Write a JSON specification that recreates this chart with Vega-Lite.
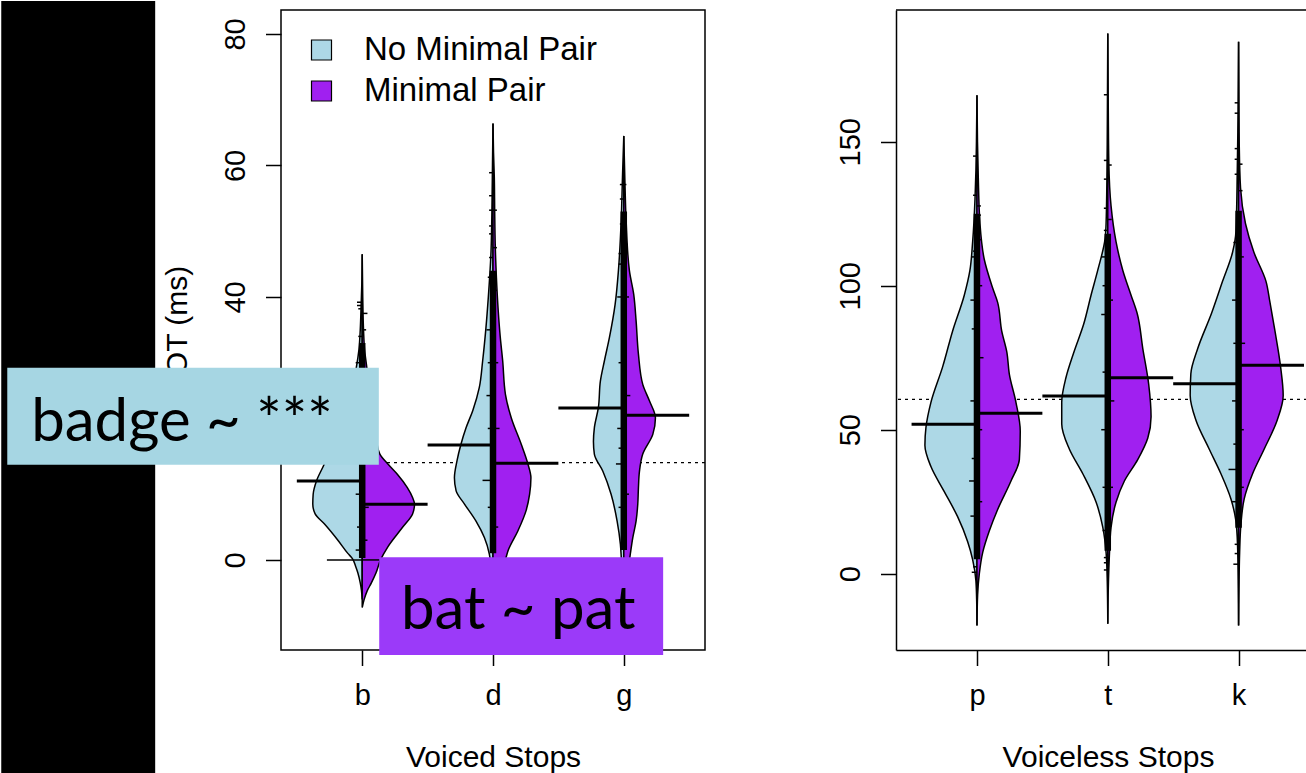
{
  "$schema": "https://vega.github.io/schema/vega-lite/v6.json",
  "padding": 0,
  "background": "white",
  "bounds": "flush",
  "spacing": 191,
  "config": {
    "font": "Liberation Sans",
    "axis": {"labelFont": "Liberation Sans", "labelFontSize": 29, "labelColor": "black", "titleFont": "Liberation Sans", "titleFontSize": 30, "titleFontWeight": "normal", "titleColor": "black", "tickColor": "black", "tickSize": 15.5, "tickWidth": 1.5, "domainColor": "black", "domainWidth": 1.5, "grid": false, "labelOverlap": false, "labelFlush": false}
  },
  "resolve": {"scale": {"color": "independent", "x": "independent", "y": "independent"}, "legend": {"color": "independent"}},
  "datasets": {
    "violinL": [
      {"stop":"b","group":"No Minimal Pair","pos":1,"edge":1,"vot":46.5},{"stop":"b","group":"No Minimal Pair","pos":1,"edge":0.997,"vot":42},{"stop":"b","group":"No Minimal Pair","pos":1,"edge":0.992,"vot":39},{"stop":"b","group":"No Minimal Pair","pos":1,"edge":0.985,"vot":35},{"stop":"b","group":"No Minimal Pair","pos":1,"edge":0.975,"vot":32},{"stop":"b","group":"No Minimal Pair","pos":1,"edge":0.955,"vot":29.3},{"stop":"b","group":"No Minimal Pair","pos":1,"edge":0.92,"vot":26},{"stop":"b","group":"No Minimal Pair","pos":1,"edge":0.85,"vot":22},{"stop":"b","group":"No Minimal Pair","pos":1,"edge":0.77,"vot":18},{"stop":"b","group":"No Minimal Pair","pos":1,"edge":0.71,"vot":14.6},{"stop":"b","group":"No Minimal Pair","pos":1,"edge":0.65,"vot":12},{"stop":"b","group":"No Minimal Pair","pos":1,"edge":0.625,"vot":10},{"stop":"b","group":"No Minimal Pair","pos":1,"edge":0.622,"vot":8.5},{"stop":"b","group":"No Minimal Pair","pos":1,"edge":0.64,"vot":7},{"stop":"b","group":"No Minimal Pair","pos":1,"edge":0.71,"vot":5.5},{"stop":"b","group":"No Minimal Pair","pos":1,"edge":0.814,"vot":3},{"stop":"b","group":"No Minimal Pair","pos":1,"edge":0.89,"vot":1},{"stop":"b","group":"No Minimal Pair","pos":1,"edge":0.925,"vot":0.2},{"stop":"b","group":"No Minimal Pair","pos":1,"edge":0.95,"vot":-1},{"stop":"b","group":"No Minimal Pair","pos":1,"edge":0.967,"vot":-2},{"stop":"b","group":"No Minimal Pair","pos":1,"edge":0.985,"vot":-3.5},{"stop":"b","group":"No Minimal Pair","pos":1,"edge":0.994,"vot":-4.6},{"stop":"b","group":"No Minimal Pair","pos":1,"edge":1,"vot":-6},
      {"stop":"b","group":"Minimal Pair","pos":1,"edge":1,"vot":46.5},{"stop":"b","group":"Minimal Pair","pos":1,"edge":1.004,"vot":40},{"stop":"b","group":"Minimal Pair","pos":1,"edge":1.01,"vot":35},{"stop":"b","group":"Minimal Pair","pos":1,"edge":1.018,"vot":32},{"stop":"b","group":"Minimal Pair","pos":1,"edge":1.035,"vot":29.3},{"stop":"b","group":"Minimal Pair","pos":1,"edge":1.055,"vot":26},{"stop":"b","group":"Minimal Pair","pos":1,"edge":1.085,"vot":22},{"stop":"b","group":"Minimal Pair","pos":1,"edge":1.11,"vot":18},{"stop":"b","group":"Minimal Pair","pos":1,"edge":1.135,"vot":16.1},{"stop":"b","group":"Minimal Pair","pos":1,"edge":1.2,"vot":14.5},{"stop":"b","group":"Minimal Pair","pos":1,"edge":1.27,"vot":13},{"stop":"b","group":"Minimal Pair","pos":1,"edge":1.345,"vot":11},{"stop":"b","group":"Minimal Pair","pos":1,"edge":1.385,"vot":9.5},{"stop":"b","group":"Minimal Pair","pos":1,"edge":1.4,"vot":8.5},{"stop":"b","group":"Minimal Pair","pos":1,"edge":1.385,"vot":7},{"stop":"b","group":"Minimal Pair","pos":1,"edge":1.31,"vot":5},{"stop":"b","group":"Minimal Pair","pos":1,"edge":1.196,"vot":2},{"stop":"b","group":"Minimal Pair","pos":1,"edge":1.14,"vot":0},{"stop":"b","group":"Minimal Pair","pos":1,"edge":1.105,"vot":-2},{"stop":"b","group":"Minimal Pair","pos":1,"edge":1.07,"vot":-3.5},{"stop":"b","group":"Minimal Pair","pos":1,"edge":1.038,"vot":-4.7},{"stop":"b","group":"Minimal Pair","pos":1,"edge":1.015,"vot":-6},{"stop":"b","group":"Minimal Pair","pos":1,"edge":1,"vot":-7.25},
      {"stop":"d","group":"No Minimal Pair","pos":2,"edge":2,"vot":66.4},{"stop":"d","group":"No Minimal Pair","pos":2,"edge":1.996,"vot":60},{"stop":"d","group":"No Minimal Pair","pos":2,"edge":1.993,"vot":55},{"stop":"d","group":"No Minimal Pair","pos":2,"edge":1.99,"vot":51},{"stop":"d","group":"No Minimal Pair","pos":2,"edge":1.985,"vot":47},{"stop":"d","group":"No Minimal Pair","pos":2,"edge":1.964,"vot":39.9},{"stop":"d","group":"No Minimal Pair","pos":2,"edge":1.946,"vot":35.3},{"stop":"d","group":"No Minimal Pair","pos":2,"edge":1.921,"vot":30.3},{"stop":"d","group":"No Minimal Pair","pos":2,"edge":1.895,"vot":26.2},{"stop":"d","group":"No Minimal Pair","pos":2,"edge":1.845,"vot":22.7},{"stop":"d","group":"No Minimal Pair","pos":2,"edge":1.794,"vot":20.1},{"stop":"d","group":"No Minimal Pair","pos":2,"edge":1.755,"vot":17.6},{"stop":"d","group":"No Minimal Pair","pos":2,"edge":1.725,"vot":15.1},{"stop":"d","group":"No Minimal Pair","pos":2,"edge":1.705,"vot":12.5},{"stop":"d","group":"No Minimal Pair","pos":2,"edge":1.718,"vot":10.5},{"stop":"d","group":"No Minimal Pair","pos":2,"edge":1.782,"vot":8.5},{"stop":"d","group":"No Minimal Pair","pos":2,"edge":1.87,"vot":5.9},{"stop":"d","group":"No Minimal Pair","pos":2,"edge":1.934,"vot":3.4},{"stop":"d","group":"No Minimal Pair","pos":2,"edge":1.972,"vot":0.9},{"stop":"d","group":"No Minimal Pair","pos":2,"edge":1.985,"vot":-1},{"stop":"d","group":"No Minimal Pair","pos":2,"edge":1.994,"vot":-3},{"stop":"d","group":"No Minimal Pair","pos":2,"edge":2,"vot":-5},
      {"stop":"d","group":"Minimal Pair","pos":2,"edge":2,"vot":66.4},{"stop":"d","group":"Minimal Pair","pos":2,"edge":2.004,"vot":62},{"stop":"d","group":"Minimal Pair","pos":2,"edge":2.01,"vot":58.2},{"stop":"d","group":"Minimal Pair","pos":2,"edge":2.013,"vot":53},{"stop":"d","group":"Minimal Pair","pos":2,"edge":2.017,"vot":48},{"stop":"d","group":"Minimal Pair","pos":2,"edge":2.026,"vot":43},{"stop":"d","group":"Minimal Pair","pos":2,"edge":2.04,"vot":37.9},{"stop":"d","group":"Minimal Pair","pos":2,"edge":2.055,"vot":34},{"stop":"d","group":"Minimal Pair","pos":2,"edge":2.074,"vot":30.3},{"stop":"d","group":"Minimal Pair","pos":2,"edge":2.095,"vot":25.2},{"stop":"d","group":"Minimal Pair","pos":2,"edge":2.14,"vot":21.6},{"stop":"d","group":"Minimal Pair","pos":2,"edge":2.216,"vot":17.6},{"stop":"d","group":"Minimal Pair","pos":2,"edge":2.267,"vot":14.6},{"stop":"d","group":"Minimal Pair","pos":2,"edge":2.29,"vot":12.5},{"stop":"d","group":"Minimal Pair","pos":2,"edge":2.28,"vot":10},{"stop":"d","group":"Minimal Pair","pos":2,"edge":2.253,"vot":7.5},{"stop":"d","group":"Minimal Pair","pos":2,"edge":2.19,"vot":4.4},{"stop":"d","group":"Minimal Pair","pos":2,"edge":2.115,"vot":1.4},{"stop":"d","group":"Minimal Pair","pos":2,"edge":2.1,"vot":0.4},{"stop":"d","group":"Minimal Pair","pos":2,"edge":2.05,"vot":-3},{"stop":"d","group":"Minimal Pair","pos":2,"edge":2.015,"vot":-6},{"stop":"d","group":"Minimal Pair","pos":2,"edge":2,"vot":-9},
      {"stop":"g","group":"No Minimal Pair","pos":3,"edge":3,"vot":64.5},{"stop":"g","group":"No Minimal Pair","pos":3,"edge":2.99,"vot":58.2},{"stop":"g","group":"No Minimal Pair","pos":3,"edge":2.98,"vot":51.6},{"stop":"g","group":"No Minimal Pair","pos":3,"edge":2.959,"vot":44},{"stop":"g","group":"No Minimal Pair","pos":3,"edge":2.934,"vot":38.9},{"stop":"g","group":"No Minimal Pair","pos":3,"edge":2.89,"vot":33.8},{"stop":"g","group":"No Minimal Pair","pos":3,"edge":2.852,"vot":30.3},{"stop":"g","group":"No Minimal Pair","pos":3,"edge":2.821,"vot":27.2},{"stop":"g","group":"No Minimal Pair","pos":3,"edge":2.806,"vot":23.2},{"stop":"g","group":"No Minimal Pair","pos":3,"edge":2.775,"vot":20.1},{"stop":"g","group":"No Minimal Pair","pos":3,"edge":2.768,"vot":18},{"stop":"g","group":"No Minimal Pair","pos":3,"edge":2.775,"vot":16.1},{"stop":"g","group":"No Minimal Pair","pos":3,"edge":2.84,"vot":13.5},{"stop":"g","group":"No Minimal Pair","pos":3,"edge":2.903,"vot":10},{"stop":"g","group":"No Minimal Pair","pos":3,"edge":2.949,"vot":5.9},{"stop":"g","group":"No Minimal Pair","pos":3,"edge":2.974,"vot":2.4},{"stop":"g","group":"No Minimal Pair","pos":3,"edge":2.982,"vot":0},{"stop":"g","group":"No Minimal Pair","pos":3,"edge":2.992,"vot":-3},{"stop":"g","group":"No Minimal Pair","pos":3,"edge":3,"vot":-6},
      {"stop":"g","group":"Minimal Pair","pos":3,"edge":3,"vot":64.5},{"stop":"g","group":"Minimal Pair","pos":3,"edge":3.008,"vot":58},{"stop":"g","group":"Minimal Pair","pos":3,"edge":3.018,"vot":51.6},{"stop":"g","group":"Minimal Pair","pos":3,"edge":3.043,"vot":44},{"stop":"g","group":"Minimal Pair","pos":3,"edge":3.076,"vot":40.4},{"stop":"g","group":"Minimal Pair","pos":3,"edge":3.094,"vot":36.4},{"stop":"g","group":"Minimal Pair","pos":3,"edge":3.112,"vot":31.3},{"stop":"g","group":"Minimal Pair","pos":3,"edge":3.145,"vot":26.7},{"stop":"g","group":"Minimal Pair","pos":3,"edge":3.196,"vot":24.2},{"stop":"g","group":"Minimal Pair","pos":3,"edge":3.242,"vot":21.6},{"stop":"g","group":"Minimal Pair","pos":3,"edge":3.222,"vot":19.1},{"stop":"g","group":"Minimal Pair","pos":3,"edge":3.145,"vot":16.1},{"stop":"g","group":"Minimal Pair","pos":3,"edge":3.12,"vot":13.5},{"stop":"g","group":"Minimal Pair","pos":3,"edge":3.112,"vot":11},{"stop":"g","group":"Minimal Pair","pos":3,"edge":3.107,"vot":8.5},{"stop":"g","group":"Minimal Pair","pos":3,"edge":3.094,"vot":5.9},{"stop":"g","group":"Minimal Pair","pos":3,"edge":3.069,"vot":3.4},{"stop":"g","group":"Minimal Pair","pos":3,"edge":3.05,"vot":0.9},{"stop":"g","group":"Minimal Pair","pos":3,"edge":3.03,"vot":-2},{"stop":"g","group":"Minimal Pair","pos":3,"edge":3.01,"vot":-5},{"stop":"g","group":"Minimal Pair","pos":3,"edge":3,"vot":-8}
    ],
    "violinR": [
      {"stop":"p","group":"No Minimal Pair","pos":1,"edge":1,"vot":166.1},{"stop":"p","group":"No Minimal Pair","pos":1,"edge":0.996,"vot":150},{"stop":"p","group":"No Minimal Pair","pos":1,"edge":0.992,"vot":140},{"stop":"p","group":"No Minimal Pair","pos":1,"edge":0.985,"vot":130.1},{"stop":"p","group":"No Minimal Pair","pos":1,"edge":0.967,"vot":115.3},{"stop":"p","group":"No Minimal Pair","pos":1,"edge":0.946,"vot":105.3},{"stop":"p","group":"No Minimal Pair","pos":1,"edge":0.903,"vot":96.7},{"stop":"p","group":"No Minimal Pair","pos":1,"edge":0.814,"vot":84.3},{"stop":"p","group":"No Minimal Pair","pos":1,"edge":0.738,"vot":71.9},{"stop":"p","group":"No Minimal Pair","pos":1,"edge":0.648,"vot":59.5},{"stop":"p","group":"No Minimal Pair","pos":1,"edge":0.61,"vot":50.8},{"stop":"p","group":"No Minimal Pair","pos":1,"edge":0.602,"vot":44.6},{"stop":"p","group":"No Minimal Pair","pos":1,"edge":0.648,"vot":37.2},{"stop":"p","group":"No Minimal Pair","pos":1,"edge":0.75,"vot":28.5},{"stop":"p","group":"No Minimal Pair","pos":1,"edge":0.852,"vot":19.8},{"stop":"p","group":"No Minimal Pair","pos":1,"edge":0.929,"vot":11.1},{"stop":"p","group":"No Minimal Pair","pos":1,"edge":0.967,"vot":4.9},{"stop":"p","group":"No Minimal Pair","pos":1,"edge":0.992,"vot":-2.5},{"stop":"p","group":"No Minimal Pair","pos":1,"edge":0.998,"vot":-10},{"stop":"p","group":"No Minimal Pair","pos":1,"edge":1,"vot":-18},
      {"stop":"p","group":"Minimal Pair","pos":1,"edge":1,"vot":166.1},{"stop":"p","group":"Minimal Pair","pos":1,"edge":1.004,"vot":150},{"stop":"p","group":"Minimal Pair","pos":1,"edge":1.01,"vot":137.6},{"stop":"p","group":"Minimal Pair","pos":1,"edge":1.023,"vot":121.5},{"stop":"p","group":"Minimal Pair","pos":1,"edge":1.056,"vot":109.1},{"stop":"p","group":"Minimal Pair","pos":1,"edge":1.12,"vot":99.2},{"stop":"p","group":"Minimal Pair","pos":1,"edge":1.158,"vot":94.2},{"stop":"p","group":"Minimal Pair","pos":1,"edge":1.189,"vot":84.3},{"stop":"p","group":"Minimal Pair","pos":1,"edge":1.229,"vot":76.8},{"stop":"p","group":"Minimal Pair","pos":1,"edge":1.247,"vot":69.4},{"stop":"p","group":"Minimal Pair","pos":1,"edge":1.298,"vot":59.5},{"stop":"p","group":"Minimal Pair","pos":1,"edge":1.331,"vot":49.5},{"stop":"p","group":"Minimal Pair","pos":1,"edge":1.324,"vot":39.6},{"stop":"p","group":"Minimal Pair","pos":1,"edge":1.26,"vot":32.2},{"stop":"p","group":"Minimal Pair","pos":1,"edge":1.158,"vot":22.3},{"stop":"p","group":"Minimal Pair","pos":1,"edge":1.094,"vot":14.8},{"stop":"p","group":"Minimal Pair","pos":1,"edge":1.044,"vot":7.4},{"stop":"p","group":"Minimal Pair","pos":1,"edge":1.018,"vot":0},{"stop":"p","group":"Minimal Pair","pos":1,"edge":1.005,"vot":-7.4},{"stop":"p","group":"Minimal Pair","pos":1,"edge":1,"vot":-18},
      {"stop":"t","group":"No Minimal Pair","pos":2,"edge":2,"vot":187.6},{"stop":"t","group":"No Minimal Pair","pos":2,"edge":1.997,"vot":160},{"stop":"t","group":"No Minimal Pair","pos":2,"edge":1.994,"vot":140},{"stop":"t","group":"No Minimal Pair","pos":2,"edge":1.987,"vot":121.5},{"stop":"t","group":"No Minimal Pair","pos":2,"edge":1.98,"vot":116.5},{"stop":"t","group":"No Minimal Pair","pos":2,"edge":1.923,"vot":105.3},{"stop":"t","group":"No Minimal Pair","pos":2,"edge":1.872,"vot":96.7},{"stop":"t","group":"No Minimal Pair","pos":2,"edge":1.816,"vot":86.7},{"stop":"t","group":"No Minimal Pair","pos":2,"edge":1.74,"vot":76.8},{"stop":"t","group":"No Minimal Pair","pos":2,"edge":1.681,"vot":68.2},{"stop":"t","group":"No Minimal Pair","pos":2,"edge":1.648,"vot":59.5},{"stop":"t","group":"No Minimal Pair","pos":2,"edge":1.648,"vot":52},{"stop":"t","group":"No Minimal Pair","pos":2,"edge":1.706,"vot":43.3},{"stop":"t","group":"No Minimal Pair","pos":2,"edge":1.809,"vot":34.7},{"stop":"t","group":"No Minimal Pair","pos":2,"edge":1.911,"vot":24.8},{"stop":"t","group":"No Minimal Pair","pos":2,"edge":1.962,"vot":16.1},{"stop":"t","group":"No Minimal Pair","pos":2,"edge":1.987,"vot":7.4},{"stop":"t","group":"No Minimal Pair","pos":2,"edge":1.996,"vot":-2.5},{"stop":"t","group":"No Minimal Pair","pos":2,"edge":2,"vot":-17.4},
      {"stop":"t","group":"Minimal Pair","pos":2,"edge":2,"vot":187.6},{"stop":"t","group":"Minimal Pair","pos":2,"edge":2.004,"vot":160},{"stop":"t","group":"Minimal Pair","pos":2,"edge":2.008,"vot":142.6},{"stop":"t","group":"Minimal Pair","pos":2,"edge":2.025,"vot":127.7},{"stop":"t","group":"Minimal Pair","pos":2,"edge":2.063,"vot":115.3},{"stop":"t","group":"Minimal Pair","pos":2,"edge":2.115,"vot":105.3},{"stop":"t","group":"Minimal Pair","pos":2,"edge":2.178,"vot":96.7},{"stop":"t","group":"Minimal Pair","pos":2,"edge":2.224,"vot":90.5},{"stop":"t","group":"Minimal Pair","pos":2,"edge":2.268,"vot":78.1},{"stop":"t","group":"Minimal Pair","pos":2,"edge":2.313,"vot":65.7},{"stop":"t","group":"Minimal Pair","pos":2,"edge":2.331,"vot":54.5},{"stop":"t","group":"Minimal Pair","pos":2,"edge":2.306,"vot":47.1},{"stop":"t","group":"Minimal Pair","pos":2,"edge":2.229,"vot":39.6},{"stop":"t","group":"Minimal Pair","pos":2,"edge":2.127,"vot":32.2},{"stop":"t","group":"Minimal Pair","pos":2,"edge":2.063,"vot":24.8},{"stop":"t","group":"Minimal Pair","pos":2,"edge":2.025,"vot":16.1},{"stop":"t","group":"Minimal Pair","pos":2,"edge":2.012,"vot":6.1},{"stop":"t","group":"Minimal Pair","pos":2,"edge":2.004,"vot":-5},{"stop":"t","group":"Minimal Pair","pos":2,"edge":2,"vot":-17.4},
      {"stop":"k","group":"No Minimal Pair","pos":3,"edge":3,"vot":184.7},{"stop":"k","group":"No Minimal Pair","pos":3,"edge":2.996,"vot":160},{"stop":"k","group":"No Minimal Pair","pos":3,"edge":2.99,"vot":140},{"stop":"k","group":"No Minimal Pair","pos":3,"edge":2.98,"vot":119},{"stop":"k","group":"No Minimal Pair","pos":3,"edge":2.954,"vot":111.6},{"stop":"k","group":"No Minimal Pair","pos":3,"edge":2.878,"vot":101.6},{"stop":"k","group":"No Minimal Pair","pos":3,"edge":2.794,"vot":90.5},{"stop":"k","group":"No Minimal Pair","pos":3,"edge":2.687,"vot":78.1},{"stop":"k","group":"No Minimal Pair","pos":3,"edge":2.635,"vot":69.4},{"stop":"k","group":"No Minimal Pair","pos":3,"edge":2.63,"vot":61.9},{"stop":"k","group":"No Minimal Pair","pos":3,"edge":2.674,"vot":53.3},{"stop":"k","group":"No Minimal Pair","pos":3,"edge":2.775,"vot":43.3},{"stop":"k","group":"No Minimal Pair","pos":3,"edge":2.865,"vot":34.7},{"stop":"k","group":"No Minimal Pair","pos":3,"edge":2.941,"vot":26},{"stop":"k","group":"No Minimal Pair","pos":3,"edge":2.979,"vot":18.5},{"stop":"k","group":"No Minimal Pair","pos":3,"edge":2.992,"vot":9.9},{"stop":"k","group":"No Minimal Pair","pos":3,"edge":2.998,"vot":-5},{"stop":"k","group":"No Minimal Pair","pos":3,"edge":3,"vot":-18},
      {"stop":"k","group":"Minimal Pair","pos":3,"edge":3,"vot":184.7},{"stop":"k","group":"Minimal Pair","pos":3,"edge":3.003,"vot":160},{"stop":"k","group":"Minimal Pair","pos":3,"edge":3.005,"vot":148.8},{"stop":"k","group":"Minimal Pair","pos":3,"edge":3.015,"vot":133.9},{"stop":"k","group":"Minimal Pair","pos":3,"edge":3.053,"vot":121.5},{"stop":"k","group":"Minimal Pair","pos":3,"edge":3.117,"vot":111.6},{"stop":"k","group":"Minimal Pair","pos":3,"edge":3.209,"vot":101.6},{"stop":"k","group":"Minimal Pair","pos":3,"edge":3.24,"vot":94.2},{"stop":"k","group":"Minimal Pair","pos":3,"edge":3.278,"vot":84.3},{"stop":"k","group":"Minimal Pair","pos":3,"edge":3.321,"vot":71.9},{"stop":"k","group":"Minimal Pair","pos":3,"edge":3.341,"vot":61.9},{"stop":"k","group":"Minimal Pair","pos":3,"edge":3.295,"vot":53.3},{"stop":"k","group":"Minimal Pair","pos":3,"edge":3.196,"vot":43.3},{"stop":"k","group":"Minimal Pair","pos":3,"edge":3.107,"vot":34.7},{"stop":"k","group":"Minimal Pair","pos":3,"edge":3.043,"vot":26},{"stop":"k","group":"Minimal Pair","pos":3,"edge":3.018,"vot":17.3},{"stop":"k","group":"Minimal Pair","pos":3,"edge":3.008,"vot":7.4},{"stop":"k","group":"Minimal Pair","pos":3,"edge":3.003,"vot":-5},{"stop":"k","group":"Minimal Pair","pos":3,"edge":3,"vot":-18}
    ],
    "meansL": [{"pos":1,"end":0.5,"vot":12.0},{"pos":1,"end":1.5,"vot":8.47},{"pos":2,"end":1.5,"vot":17.49},{"pos":2,"end":2.5,"vot":14.71},{"pos":3,"end":2.5,"vot":23.12},{"pos":3,"end":3.5,"vot":22.01}],
    "meansR": [{"pos":1,"end":0.5,"vot":51.87},{"pos":1,"end":1.5,"vot":55.69},{"pos":2,"end":1.5,"vot":61.7},{"pos":2,"end":2.5,"vot":68.06},{"pos":3,"end":2.5,"vot":65.97},{"pos":3,"end":3.5,"vot":72.36}],
    "bandsL": [{"pos":1,"lo":0.3,"hi":33},{"pos":2,"lo":1,"hi":44},{"pos":3,"lo":1.5,"hi":53}],
    "bandsR": [{"pos":1,"lo":5,"hi":125},{"pos":2,"lo":8,"hi":118},{"pos":3,"lo":16,"hi":126}],
    "ticksL": [
      {"pos":1,"end":0.96,"vot":39.2},{"pos":1,"end":0.96,"vot":38.7},{"pos":1,"end":0.97,"vot":38.2},{"pos":1,"end":1.04,"vot":37.5},{"pos":1,"end":1.03,"vot":35},{"pos":1,"end":0.97,"vot":34},{"pos":1,"end":0.73,"vot":0},{"pos":1,"end":1.15,"vot":0},
      {"pos":1,"end":0.95,"vot":30},{"pos":1,"end":0.96,"vot":20},{"pos":1,"end":0.95,"vot":10},{"pos":1,"end":0.96,"vot":5},{"pos":1,"end":1.05,"vot":8},{"pos":1,"end":1.04,"vot":3},{"pos":1,"end":0.95,"vot":1.5},
      {"pos":2,"end":1.97,"vot":58.9},{"pos":2,"end":1.97,"vot":55.4},{"pos":2,"end":1.97,"vot":53.2},{"pos":2,"end":2.03,"vot":53.2},{"pos":2,"end":1.97,"vot":50.8},{"pos":2,"end":1.97,"vot":49.6},{"pos":2,"end":2.03,"vot":47.5},{"pos":2,"end":1.97,"vot":46},{"pos":2,"end":1.96,"vot":43},{"pos":2,"end":2.03,"vot":41},{"pos":2,"end":1.92,"vot":12.1},
      {"pos":2,"end":1.95,"vot":35},{"pos":2,"end":1.96,"vot":30},{"pos":2,"end":1.95,"vot":25},{"pos":2,"end":1.96,"vot":20},{"pos":2,"end":1.96,"vot":8},{"pos":2,"end":2.04,"vot":30},{"pos":2,"end":2.05,"vot":20},{"pos":2,"end":2.04,"vot":5},
      {"pos":3,"end":2.97,"vot":57.1},{"pos":3,"end":3.02,"vot":57.1},{"pos":3,"end":2.97,"vot":54.9},{"pos":3,"end":2.97,"vot":51.1},{"pos":3,"end":3.03,"vot":48},{"pos":3,"end":2.96,"vot":46.6},{"pos":3,"end":2.94,"vot":14.6},{"pos":3,"end":2.96,"vot":17},
      {"pos":3,"end":2.96,"vot":45},{"pos":3,"end":2.95,"vot":40},{"pos":3,"end":2.96,"vot":30},{"pos":3,"end":2.95,"vot":20},{"pos":3,"end":2.96,"vot":8},{"pos":3,"end":3.04,"vot":40},{"pos":3,"end":3.05,"vot":25},{"pos":3,"end":3.04,"vot":10}
    ],
    "ticksR": [
      {"pos":1,"end":0.97,"vot":145},{"pos":1,"end":0.97,"vot":131.4},{"pos":1,"end":1.03,"vot":127.7},{"pos":1,"end":1.03,"vot":124.5},{"pos":1,"end":0.97,"vot":119.7},{"pos":1,"end":1.03,"vot":116},{"pos":1,"end":0.97,"vot":112},{"pos":1,"end":0.94,"vot":32.2},{"pos":1,"end":0.97,"vot":2.4},{"pos":1,"end":0.96,"vot":0.5},
      {"pos":1,"end":0.96,"vot":110},{"pos":1,"end":0.95,"vot":95},{"pos":1,"end":0.96,"vot":85},{"pos":1,"end":0.95,"vot":60},{"pos":1,"end":0.96,"vot":40},{"pos":1,"end":0.95,"vot":20},{"pos":1,"end":1.04,"vot":100},{"pos":1,"end":1.05,"vot":75},{"pos":1,"end":1.04,"vot":50},{"pos":1,"end":1.04,"vot":25},
      {"pos":2,"end":1.97,"vot":166.3},{"pos":2,"end":1.97,"vot":143.5},{"pos":2,"end":2.03,"vot":141.9},{"pos":2,"end":1.97,"vot":137},{"pos":2,"end":1.97,"vot":126.9},{"pos":2,"end":2.03,"vot":123},{"pos":2,"end":1.97,"vot":119.2},{"pos":2,"end":1.97,"vot":5.6},{"pos":2,"end":1.97,"vot":3.8},{"pos":2,"end":1.97,"vot":1.3},
      {"pos":2,"end":1.95,"vot":110},{"pos":2,"end":1.96,"vot":100},{"pos":2,"end":1.95,"vot":90},{"pos":2,"end":1.96,"vot":70},{"pos":2,"end":1.95,"vot":50},{"pos":2,"end":1.96,"vot":30},{"pos":2,"end":1.96,"vot":15},{"pos":2,"end":2.04,"vot":95},{"pos":2,"end":2.05,"vot":60},{"pos":2,"end":2.04,"vot":30},
      {"pos":3,"end":2.97,"vot":163.5},{"pos":3,"end":2.97,"vot":159.9},{"pos":3,"end":2.97,"vot":147.6},{"pos":3,"end":2.97,"vot":143.9},{"pos":3,"end":3.03,"vot":142.2},{"pos":3,"end":2.97,"vot":138.7},{"pos":3,"end":3.03,"vot":133},{"pos":3,"end":2.923,"vot":36.2},{"pos":3,"end":2.97,"vot":10.2},{"pos":3,"end":2.96,"vot":3.3},{"pos":3,"end":2.97,"vot":7},
      {"pos":3,"end":2.96,"vot":115},{"pos":3,"end":2.95,"vot":95},{"pos":3,"end":2.96,"vot":80},{"pos":3,"end":2.95,"vot":60},{"pos":3,"end":2.96,"vot":45},{"pos":3,"end":2.95,"vot":25},{"pos":3,"end":3.04,"vot":110},{"pos":3,"end":3.05,"vot":80},{"pos":3,"end":3.04,"vot":50},{"pos":3,"end":3.04,"vot":30}
    ]
  },
  "hconcat": [
    {
      "width": 424,
      "height": 640,
      "view": {"stroke": "black", "strokeWidth": 1.5},
      "layer": [
        {
          "data": {"values": [{"x1": -1.76, "x2": -0.583, "y1": 85.02, "y2": -32.54}]},
          "mark": {"type": "rect", "fill": "black"},
          "encoding": {
            "x": {"field": "x1", "type": "quantitative", "scale": {"domain": [0.379, 3.621], "nice": false, "zero": false},
              "axis": {"values": [1, 2, 3], "labelExpr": "datum.value == 1 ? 'b' : datum.value == 2 ? 'd' : 'g'", "title": "Voiced Stops", "titleX": 212, "titleY": 116, "titleBaseline": "alphabetic", "titleAlign": "center", "labelBaseline": "alphabetic", "labelPadding": 39, "domain": false}},
            "x2": {"field": "x2"},
            "y": {"field": "y1", "type": "quantitative", "scale": {"domain": [-13.7, 83.65], "nice": false, "zero": false},
              "axis": {"values": [0, 20, 40, 60, 80], "title": "VOT (ms)", "titleX": -95, "titleY": 320, "titleAngle": -90, "titleBaseline": "alphabetic", "titleAlign": "center", "labelAngle": -90, "labelAlign": "center", "labelBaseline": "alphabetic", "labelPadding": 21.5, "domain": false}},
            "y2": {"field": "y2"}
          }
        },
        {
          "data": {"values": [{"vot": 14.8}]},
          "mark": {"type": "rule", "color": "black", "strokeWidth": 1.3, "strokeDash": [3, 4]},
          "encoding": {
            "y": {"field": "vot", "type": "quantitative", "scale": {"domain": [-13.7, 83.65], "nice": false, "zero": false}}
          }
        },
        {
          "data": {"name": "violinL"},
          "mark": {"type": "area", "orient": "horizontal", "interpolate": "monotone", "stroke": "black", "strokeWidth": 1.5, "opacity": 1},
          "encoding": {
            "y": {"field": "vot", "type": "quantitative", "scale": {"domain": [-13.7, 83.65], "nice": false, "zero": false}},
            "x": {"field": "edge", "type": "quantitative", "stack": null, "scale": {"domain": [0.379, 3.621], "nice": false, "zero": false}},
            "x2": {"field": "pos"},
            "color": {"field": "group", "type": "nominal", "scale": {"domain": ["No Minimal Pair", "Minimal Pair"], "range": ["#ADD8E6", "#A020F0"]},
              "legend": {"orient": "none", "legendX": 24, "legendY": 23.5, "title": null, "symbolType": "square", "symbolSize": 400, "symbolStrokeColor": "black", "symbolStrokeWidth": 1.2, "symbolOpacity": 1, "labelFont": "Liberation Sans", "labelFontSize": 33, "labelColor": "black", "labelOffset": 26, "labelLimit": 0, "rowPadding": 7, "padding": 0}},
            "detail": {"field": "stop"}
          }
        },
        {
          "data": {"name": "bandsL"},
          "mark": {"type": "rule", "color": "black", "strokeWidth": 6.5},
          "encoding": {
            "x": {"field": "pos", "type": "quantitative", "scale": {"domain": [0.379, 3.621], "nice": false, "zero": false}},
            "y": {"field": "lo", "type": "quantitative", "scale": {"domain": [-13.7, 83.65], "nice": false, "zero": false}},
            "y2": {"field": "hi"}
          }
        },
        {
          "data": {"name": "ticksL"},
          "mark": {"type": "rule", "color": "black", "strokeWidth": 1.5},
          "encoding": {
            "x": {"field": "pos", "type": "quantitative", "scale": {"domain": [0.379, 3.621], "nice": false, "zero": false}},
            "x2": {"field": "end"},
            "y": {"field": "vot", "type": "quantitative", "scale": {"domain": [-13.7, 83.65], "nice": false, "zero": false}}
          }
        },
        {
          "data": {"name": "meansL"},
          "mark": {"type": "rule", "color": "black", "strokeWidth": 3},
          "encoding": {
            "x": {"field": "pos", "type": "quantitative", "scale": {"domain": [0.379, 3.621], "nice": false, "zero": false}},
            "x2": {"field": "end"},
            "y": {"field": "vot", "type": "quantitative", "scale": {"domain": [-13.7, 83.65], "nice": false, "zero": false}}
          }
        },
        {
          "data": {"values": [{"x1": -1.714, "x2": 1.127, "y1": 29.25, "y2": 14.49}]},
          "mark": {"type": "rect", "fill": "#A6D6E3"},
          "encoding": {
            "x": {"field": "x1", "type": "quantitative", "scale": {"domain": [0.379, 3.621], "nice": false, "zero": false}},
            "x2": {"field": "x2"},
            "y": {"field": "y1", "type": "quantitative", "scale": {"domain": [-13.7, 83.65], "nice": false, "zero": false}},
            "y2": {"field": "y2"}
          }
        },
        {
          "data": {"values": [{"x": -1.531, "y": 18.1, "label": "badge ~ ***"}]},
          "mark": {"type": "text", "font": "Lato", "fontSize": 60, "color": "black", "align": "left", "baseline": "alphabetic"},
          "encoding": {
            "x": {"field": "x", "type": "quantitative", "scale": {"domain": [0.379, 3.621], "nice": false, "zero": false}},
            "y": {"field": "y", "type": "quantitative", "scale": {"domain": [-13.7, 83.65], "nice": false, "zero": false}},
            "text": {"field": "label"}
          }
        },
        {
          "data": {"values": [{"x1": 1.13, "x2": 3.301, "y1": 0.4, "y2": -14.45}]},
          "mark": {"type": "rect", "fill": "#9B3AF9"},
          "encoding": {
            "x": {"field": "x1", "type": "quantitative", "scale": {"domain": [0.379, 3.621], "nice": false, "zero": false}},
            "x2": {"field": "x2"},
            "y": {"field": "y1", "type": "quantitative", "scale": {"domain": [-13.7, 83.65], "nice": false, "zero": false}},
            "y2": {"field": "y2"}
          }
        },
        {
          "data": {"values": [{"x": 1.296, "y": -10.54, "label": "bat ~ pat"}]},
          "mark": {"type": "text", "font": "Lato", "fontSize": 60, "color": "black", "align": "left", "baseline": "alphabetic"},
          "encoding": {
            "x": {"field": "x", "type": "quantitative", "scale": {"domain": [0.379, 3.621], "nice": false, "zero": false}},
            "y": {"field": "y", "type": "quantitative", "scale": {"domain": [-13.7, 83.65], "nice": false, "zero": false}},
            "text": {"field": "label"}
          }
        }
      ]
    },
    {
      "width": 411,
      "height": 640,
      "view": {"stroke": null},
      "layer": [
        {
          "data": {"values": [{"vot": 60.55}]},
          "mark": {"type": "rule", "color": "black", "strokeWidth": 1.3, "strokeDash": [3, 4]},
          "encoding": {
            "y": {"field": "vot", "type": "quantitative", "scale": {"domain": [-26.49, 195.73], "nice": false, "zero": false},
              "axis": {"values": [0, 50, 100, 150], "title": null, "labelAngle": -90, "labelAlign": "center", "labelBaseline": "alphabetic", "labelPadding": 21.5, "domain": true}}
          }
        },
        {
          "data": {"name": "violinR"},
          "mark": {"type": "area", "orient": "horizontal", "interpolate": "monotone", "stroke": "black", "strokeWidth": 1.5, "opacity": 1},
          "encoding": {
            "y": {"field": "vot", "type": "quantitative", "scale": {"domain": [-26.49, 195.73], "nice": false, "zero": false}},
            "x": {"field": "edge", "type": "quantitative", "stack": null, "scale": {"domain": [0.381, 3.523], "nice": false, "zero": false},
              "axis": {"values": [1, 2, 3], "labelExpr": "datum.value == 1 ? 'p' : datum.value == 2 ? 't' : 'k'", "title": "Voiceless Stops", "titleX": 212, "titleY": 116, "titleBaseline": "alphabetic", "titleAlign": "center", "labelBaseline": "alphabetic", "labelPadding": 39, "domain": true}},
            "x2": {"field": "pos"},
            "color": {"field": "group", "type": "nominal", "scale": {"domain": ["No Minimal Pair", "Minimal Pair"], "range": ["#ADD8E6", "#A020F0"]}, "legend": null},
            "detail": {"field": "stop"}
          }
        },
        {
          "data": {"name": "bandsR"},
          "mark": {"type": "rule", "color": "black", "strokeWidth": 6.5},
          "encoding": {
            "x": {"field": "pos", "type": "quantitative", "scale": {"domain": [0.381, 3.523], "nice": false, "zero": false}},
            "y": {"field": "lo", "type": "quantitative", "scale": {"domain": [-26.49, 195.73], "nice": false, "zero": false}},
            "y2": {"field": "hi"}
          }
        },
        {
          "data": {"name": "ticksR"},
          "mark": {"type": "rule", "color": "black", "strokeWidth": 1.5},
          "encoding": {
            "x": {"field": "pos", "type": "quantitative", "scale": {"domain": [0.381, 3.523], "nice": false, "zero": false}},
            "x2": {"field": "end"},
            "y": {"field": "vot", "type": "quantitative", "scale": {"domain": [-26.49, 195.73], "nice": false, "zero": false}}
          }
        },
        {
          "data": {"name": "meansR"},
          "mark": {"type": "rule", "color": "black", "strokeWidth": 3},
          "encoding": {
            "x": {"field": "pos", "type": "quantitative", "scale": {"domain": [0.381, 3.523], "nice": false, "zero": false}},
            "x2": {"field": "end"},
            "y": {"field": "vot", "type": "quantitative", "scale": {"domain": [-26.49, 195.73], "nice": false, "zero": false}}
          }
        },
        {
          "data": {"values": [{"vot": 195.73}]},
          "mark": {"type": "rule", "color": "black", "strokeWidth": 1.5},
          "encoding": {
            "y": {"field": "vot", "type": "quantitative", "scale": {"domain": [-26.49, 195.73], "nice": false, "zero": false}}
          }
        }
      ]
    }
  ]
}
